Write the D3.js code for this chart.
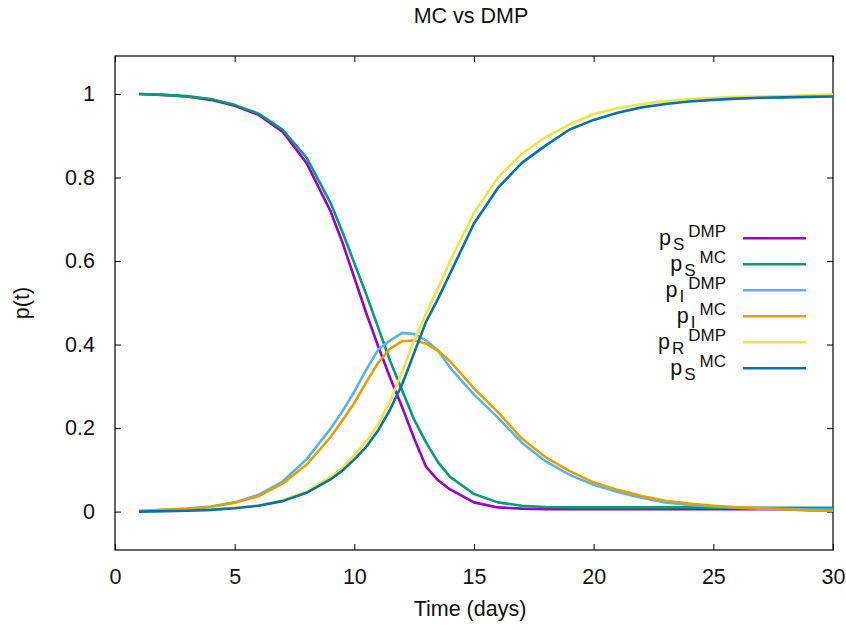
<!DOCTYPE html>
<html>
<head>
<meta charset="utf-8">
<script src="https://cdn.jsdelivr.net/npm/d3@7"></script>
<style>
  body { margin: 0; background: #fff; }
  svg { display: block; font-family: "Liberation Sans", Arial, sans-serif; }
</style>
</head>
<body>
<svg></svg>
<script>
const width = 846, height = 630;
const margin = { left: 115, right: 13, top: 56, bottom: 80 };

// data (time in days, probability)
const days = [1, 2, 3, 4, 5, 6, 7, 8, 9, 9.5, 10, 10.5, 11, 11.5, 12, 12.5, 13, 13.5, 14,
  15, 16, 17, 18, 19, 20, 21, 22, 23, 24, 25, 26, 27, 28, 29, 30];

const s_dmp = [1.0, 0.998, 0.994, 0.986, 0.972, 0.95, 0.91, 0.835, 0.72, 0.645, 0.56, 0.475, 0.395, 0.32, 0.25, 0.175, 0.107, 0.075, 0.053,
  0.022, 0.01, 0.007, 0.006, 0.006, 0.006, 0.006, 0.006, 0.006, 0.006, 0.006, 0.006, 0.006, 0.006, 0.006, 0.006];
const s_mc = [1.0, 0.998, 0.995, 0.988, 0.974, 0.953, 0.915, 0.848, 0.74, 0.67, 0.595, 0.52, 0.44, 0.36, 0.29, 0.22, 0.165, 0.118, 0.083,
  0.042, 0.022, 0.014, 0.011, 0.01, 0.01, 0.01, 0.01, 0.01, 0.01, 0.009, 0.009, 0.009, 0.009, 0.009, 0.009];
const i_dmp = [0.0, 0.004, 0.007, 0.012, 0.022, 0.04, 0.072, 0.125, 0.198, 0.24, 0.287, 0.34, 0.388, 0.41, 0.428, 0.425, 0.41, 0.385, 0.345,
  0.28, 0.225, 0.165, 0.12, 0.088, 0.064, 0.047, 0.033, 0.022, 0.016, 0.012, 0.009, 0.007, 0.006, 0.005, 0.004];
const i_mc = [0.002, 0.004, 0.006, 0.011, 0.021, 0.037, 0.067, 0.112, 0.178, 0.218, 0.26, 0.31, 0.357, 0.39, 0.408, 0.41, 0.402, 0.385, 0.36,
  0.295, 0.238, 0.175, 0.13, 0.097, 0.07, 0.052, 0.037, 0.026, 0.019, 0.014, 0.01, 0.008, 0.006, 0.002, 0.002];
const r_dmp = [0.0, 0.001, 0.002, 0.004, 0.009, 0.015, 0.027, 0.048, 0.083, 0.105, 0.135, 0.168, 0.21, 0.265, 0.335, 0.41, 0.475, 0.535, 0.6,
  0.715, 0.8, 0.857, 0.897, 0.927, 0.952, 0.966, 0.976, 0.983, 0.988, 0.991, 0.993, 0.994, 0.995, 0.997, 0.999];
const r_mc = [0.0, 0.001, 0.002, 0.004, 0.008, 0.014, 0.025, 0.045, 0.077, 0.098, 0.125, 0.155, 0.195, 0.245, 0.305, 0.38, 0.455, 0.51, 0.57,
  0.69, 0.775, 0.835, 0.877, 0.915, 0.938, 0.955, 0.968, 0.976, 0.982, 0.986, 0.989, 0.991, 0.992, 0.993, 0.994];

// legend labels as in the original (the last one really reads p_S^MC)
const label_base = ["S", "S", "I", "I", "R", "S"];
const label_sup = ["DMP", "MC", "DMP", "MC", "DMP", "MC"];
const colors = ["#9400d3", "#009e73", "#56b4e9", "#e69f00", "#f0e442", "#0072b2"];
const series = [s_dmp, s_mc, i_dmp, i_mc, r_dmp, r_mc];

const x_ticks = [0, 5, 10, 15, 20, 25, 30];
const y_ticks = [0, 0.2, 0.4, 0.6, 0.8, 1];

const svg = d3.select("svg").attr("width", width).attr("height", height);

const x_scale = d3.scaleLinear().domain([0, 30]).range([margin.left, width - margin.right]);
const y_scale = d3.scaleLinear().domain([-0.092, 1.091]).range([height - margin.bottom, margin.top]);

const x0 = margin.left, x1 = width - margin.right;
const y0 = height - margin.bottom, y1 = margin.top;
const tick = 6;
const font = "21.5px";

// axes: bottom/left with labels, top/right mirrored ticks only
svg.append("g")
  .attr("transform", `translate(0,${y0})`)
  .call(d3.axisBottom(x_scale).tickValues(x_ticks).tickSize(-tick).tickPadding(19).tickFormat(d3.format("d")))
  .call(g => g.select(".domain").remove())
  .call(g => g.selectAll("text").style("font-size", font).attr("fill", "#111"));
svg.append("g")
  .attr("transform", `translate(0,${y1})`)
  .call(d3.axisTop(x_scale).tickValues(x_ticks).tickSize(-tick).tickFormat(""))
  .call(g => g.select(".domain").remove());
svg.append("g")
  .attr("transform", `translate(${x0},0)`)
  .call(d3.axisLeft(y_scale).tickValues(y_ticks).tickSize(-tick).tickPadding(20).tickFormat(d => d3.format("~g")(d)))
  .call(g => g.select(".domain").remove())
  .call(g => g.selectAll("text").style("font-size", font).attr("fill", "#111"));
svg.append("g")
  .attr("transform", `translate(${x1},0)`)
  .call(d3.axisRight(y_scale).tickValues(y_ticks).tickSize(-tick).tickFormat(""))
  .call(g => g.select(".domain").remove());

svg.selectAll(".tick line").attr("stroke", "#000");

// frame
svg.append("rect")
  .attr("x", x0).attr("y", y1)
  .attr("width", x1 - x0).attr("height", y0 - y1)
  .attr("fill", "none").attr("stroke", "#000").attr("stroke-width", 1.2);

// lines
const line = d3.line()
  .x((d, i) => x_scale(days[i]))
  .y(d => y_scale(d));

series.forEach((vals, k) => {
  svg.append("path")
    .attr("fill", "none")
    .attr("stroke", colors[k])
    .attr("stroke-width", 2.6)
    .attr("stroke-linejoin", "round")
    .attr("d", line(vals));
});

// legend
const leg_y = 238.3, leg_step = 26;
label_base.forEach((b, k) => {
  const ly = leg_y + k * leg_step;
  const t = svg.append("text")
    .attr("x", 726).attr("y", ly + 6.7)
    .attr("text-anchor", "end")
    .attr("fill", "#111")
    .style("font-size", font);
  t.append("tspan").text("p");
  t.append("tspan").attr("dx", 2).attr("dy", 5).style("font-size", "17px").text(b);
  t.append("tspan").attr("dx", 4).attr("dy", -13).style("font-size", "17px").text(label_sup[k]);
  svg.append("line")
    .attr("x1", 743).attr("x2", 806)
    .attr("y1", ly).attr("y2", ly)
    .attr("stroke", colors[k]).attr("stroke-width", 2.6);
});

// title and axis labels
svg.append("text")
  .attr("x", 471).attr("y", 23)
  .attr("text-anchor", "middle")
  .attr("fill", "#111")
  .style("font-size", font)
  .text("MC vs DMP");
svg.append("text")
  .attr("x", 470).attr("y", 616)
  .attr("text-anchor", "middle")
  .attr("fill", "#111")
  .style("font-size", font)
  .text("Time (days)");
svg.append("text")
  .attr("transform", `translate(29,303) rotate(-90)`)
  .attr("text-anchor", "middle")
  .attr("fill", "#111")
  .style("font-size", font)
  .text("p(t)");
</script>
</body>
</html>
